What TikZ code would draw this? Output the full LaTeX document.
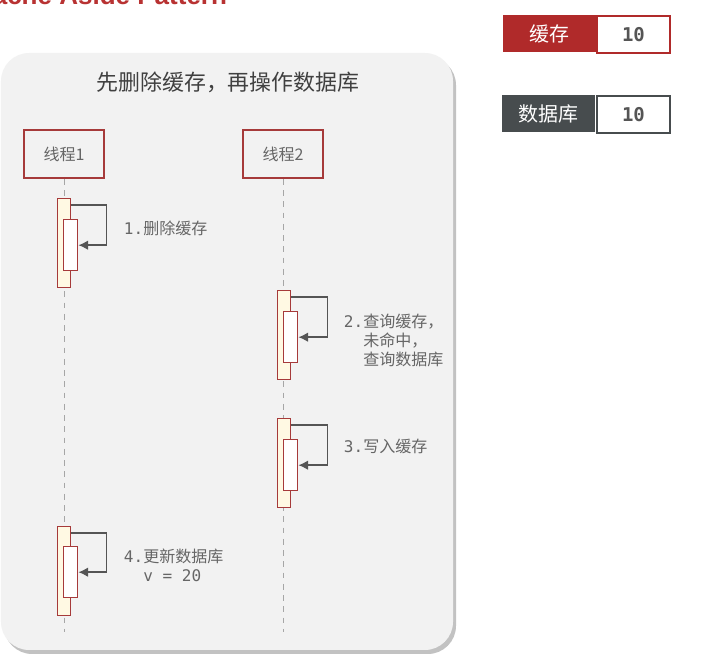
\documentclass[tikz,border=0pt]{standalone}
\usepackage{fontspec}
\setmainfont{Noto Sans CJK SC}
\setmonofont{DejaVu Sans Mono}
\newfontfamily\titlefont{Liberation Sans}
\usetikzlibrary{calc,arrows.meta,positioning}
\definecolor{panelgray}{HTML}{F2F2F2}
\definecolor{shadowgray}{HTML}{C2C2C2}
\definecolor{boxred}{HTML}{A63A3A}
\definecolor{cachered}{HTML}{B02A2A}
\definecolor{titlered}{HTML}{B83232}
\definecolor{dbgray}{HTML}{474C4E}
\definecolor{actfill}{HTML}{FFF9E3}
\definecolor{labelgray}{HTML}{666666}
\definecolor{arrowgray}{HTML}{555555}
\newcommand{\pxl}{0.025cm}
\begin{document}
\begin{tikzpicture}[x=0.025cm, y=-0.025cm,
  thread/.style={draw=boxred, line width=1.4pt, fill=panelgray, text=labelgray,
    minimum width=80*\pxl, minimum height=48*\pxl, inner sep=0pt,
    font=\fontsize{11.4}{13.5}\selectfont},
  lifeline/.style={draw=gray!70, line width=0.7pt, dash pattern=on 4pt off 4pt},
  actouter/.style={draw=boxred, line width=1pt, fill=actfill, anchor=north west,
    minimum width=13*\pxl, minimum height=89*\pxl, inner sep=0pt},
  actinner/.style={draw=boxred, line width=1pt, fill=white, anchor=north west,
    minimum width=14*\pxl, minimum height=51*\pxl, inner sep=0pt},
  selfcall/.style={draw=arrowgray, line width=1.1pt, -{Latex[length=2.4mm,width=2.4mm]}},
  steplabel/.style={anchor=west, text=labelgray, align=left,
    font=\fontsize{11.4}{13.5}\selectfont},
  keybox/.style={minimum width=93*\pxl, minimum height=37*\pxl, inner sep=0pt,
    text=white, font=\fontsize{14.2}{16}\selectfont},
  valbox/.style={draw, line width=1.4pt, fill=white, minimum width=73*\pxl,
    minimum height=37*\pxl, inner sep=0pt, text=arrowgray,
    font=\ttfamily\bfseries\fontsize{13.5}{16}\selectfont}]
\useasboundingbox (0,0) rectangle (713,668);
\clip (0,0) rectangle (713,668);
\fill[white] (0,0) rectangle (713,668);

\node[anchor=base east, text=titlered, font=\titlefont\bfseries\fontsize{18.5}{20}\selectfont]
  (pagetitle) at (232,5) {Cache Aside Pattern};

\fill[shadowgray, rounded corners=20] (4,57) rectangle (456,654);
\fill[panelgray, rounded corners=20] (1,53) rectangle (453,650);
\node[text=black!75, font=\fontsize{15.6}{18}\selectfont] (heading) at (228,82)
  {先删除缓存，再操作数据库};

\node[thread] (t1) at (64,154) {线程1};
\node[thread] (t2) at (283,154) {线程2};
\coordinate (t1end) at (64,632);
\coordinate (t2end) at (283,632);
\draw[lifeline] (t1) -- (t1end);
\draw[lifeline] (t2) -- (t2end);

\node[actouter] (a1) at (57,198) {};
\node[actinner] (i1) at (63,219) {};
\draw[selfcall] ($(a1.north east)+(0,7)$) -- ++(35,0) |- (i1.east);
\node[steplabel] (s1) at (119,228) {\texttt{1.}删除缓存};

\node[actouter] (a2) at (277,290) {};
\node[actinner] (i2) at (283,311) {};
\draw[selfcall] ($(a2.north east)+(0,7)$) -- ++(36,0) |- (i2.east);
\node[steplabel, anchor=north west] (s2) at (339,309)
  {\texttt{2.}查询缓存，\\\phantom{\texttt{2.}}未命中，\\\phantom{\texttt{2.}}查询数据库};

\node[actouter] (a3) at (277,418) {};
\node[actinner] (i3) at (283,439) {};
\draw[selfcall] ($(a3.north east)+(0,7)$) -- ++(36,0) |- (i3.east);
\node[steplabel] (s3) at (339,446) {\texttt{3.}写入缓存};

\node[actouter] (a4) at (57,526) {};
\node[actinner] (i4) at (63,546) {};
\draw[selfcall] ($(a4.north east)+(0,7)$) -- ++(35,0) |- (i4.east);
\node[steplabel, anchor=north west] (s4) at (119,544)
  {\texttt{4.}更新数据库\\\phantom{\texttt{4.}}\texttt{v = 20}};

\node[keybox, fill=cachered, anchor=north west] (cachekey) at (503,15) {缓存};
\node[valbox, draw=cachered, anchor=north west] (cacheval) at (596,15) {10};
\node[keybox, fill=dbgray, anchor=north west] (dbkey) at (502,95) {数据库};
\node[valbox, draw=dbgray, anchor=north west] (dbval) at (596,95) {10};
\end{tikzpicture}
\end{document}
